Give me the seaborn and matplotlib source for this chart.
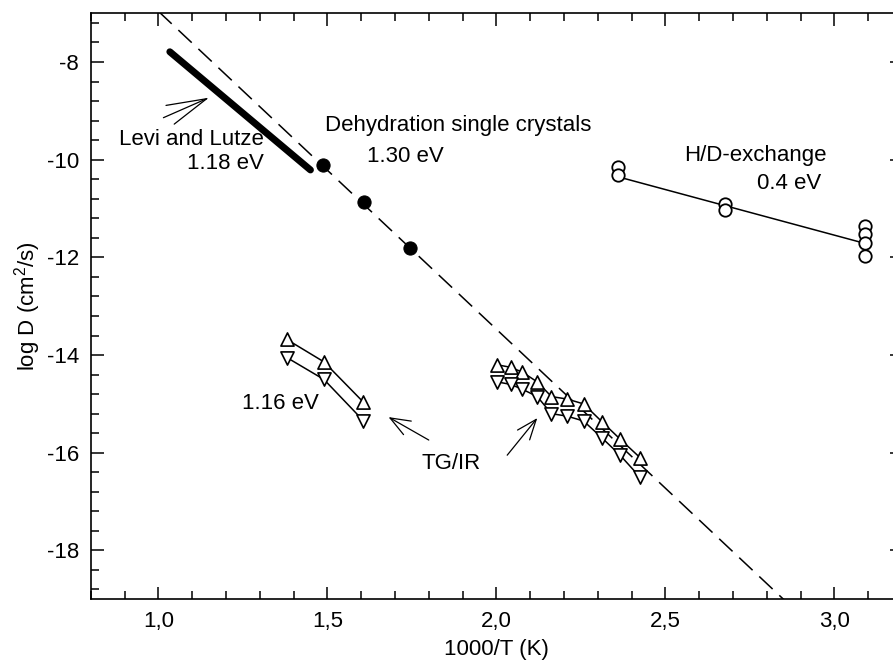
import numpy as np
import pandas as pd
import matplotlib
matplotlib.use('Agg')
import matplotlib.pyplot as plt
from matplotlib.ticker import MultipleLocator, FuncFormatter
import seaborn as sns

# Levi and Lutze (thick line, 1.18 eV)
levi_x = [1.034, 1.450]
levi_y = [-7.79, -10.21]

# dehydration of single crystals (1.30 eV) and its dashed Arrhenius line
dehy_x = [1.487, 1.608, 1.745]
dehy_y = [-10.10, -10.86, -11.80]
dehy_fit_x = [1.0, 2.9]
dehy_fit_y = [-6.96, -19.33]

# H/D-exchange (0.4 eV)
hd_x = [2.36, 2.36, 2.677, 2.677, 3.091, 3.091, 3.091, 3.091]
hd_y = [-10.14, -10.32, -10.90, -11.03, -11.36, -11.53, -11.70, -11.98]
hd_fit_x = [2.36, 3.091]
hd_fit_y = [-10.35, -11.715]

# TG/IR, left group (1.16 eV)
tg1_x = [1.380, 1.490, 1.606]
tg1_up = [-13.68, -14.14, -14.96]
tg1_dn = [-14.05, -14.50, -15.34]

# TG/IR, right group
tg2_x = [2.003, 2.042, 2.077, 2.121, 2.163, 2.209, 2.258, 2.313, 2.366, 2.425]
tg2_up = [-14.20, -14.25, -14.35, -14.55, -14.85, -14.90, -15.00, -15.37, -15.72, -16.10]
tg2_dn = [-14.55, -14.60, -14.70, -14.85, -15.20, -15.25, -15.35, -15.70, -16.05, -16.50]

sns.set_style('ticks')
plt.rcParams['font.family'] = ['Liberation Sans', 'DejaVu Sans']
plt.rcParams['mathtext.default'] = 'regular'
plt.rcParams['axes.unicode_minus'] = False
plt.rcParams['font.size'] = 16
for k in ['text.color', 'axes.labelcolor', 'xtick.color', 'ytick.color',
          'axes.edgecolor']:
    plt.rcParams[k] = 'black'

fig = plt.figure(figsize=(8.93, 6.66), dpi=100)
ax = fig.add_axes([0.1016, 0.1002, 0.9085, 0.880])

# dashed line
sns.lineplot(x=dehy_fit_x, y=dehy_fit_y, ax=ax, color='black', lw=1.1,
             estimator=None, sort=False, zorder=1)
ax.lines[-1].set_dashes((12, 6))

# Levi and Lutze
sns.lineplot(x=levi_x, y=levi_y, ax=ax, color='black', lw=5,
             estimator=None, sort=False, solid_capstyle='round', zorder=2)

# dehydration points
sns.scatterplot(x=dehy_x, y=dehy_y, ax=ax, color='black', s=90,
                edgecolor='black', zorder=3)

# H/D exchange
sns.lineplot(x=hd_fit_x, y=hd_fit_y, ax=ax, color='black', lw=1.1,
             estimator=None, sort=False, zorder=2)
sns.scatterplot(x=hd_x, y=hd_y, ax=ax, marker='o', s=80, facecolor='white',
                edgecolor='black', linewidth=1.3, zorder=3)

# TG/IR triangles
for xs, ys, mk in [(tg1_x, tg1_up, '^'), (tg1_x, tg1_dn, 'v'),
                   (tg2_x, tg2_up, '^'), (tg2_x, tg2_dn, 'v')]:
    sns.lineplot(x=xs, y=ys, ax=ax, color='black', lw=1.1, estimator=None,
                 sort=False, zorder=2)
    sns.scatterplot(x=xs, y=ys, ax=ax, marker=mk, s=90, facecolor='white',
                    edgecolor='black', linewidth=1.2, zorder=3)

# texts
ax.text(1.312, -9.58, 'Levi and Lutze', ha='right', va='center', fontsize=16)
ax.text(1.312, -10.08, '1.18 eV', ha='right', va='center', fontsize=16)
ax.text(1.494, -9.29, 'Dehydration single crystals', ha='left', va='center', fontsize=16)
ax.text(1.618, -9.94, '1.30 eV', ha='left', va='center', fontsize=16)
ax.text(2.554, -9.906, 'H/D-exchange', ha='left', va='center', fontsize=16)
ax.text(2.771, -10.486, '0.4 eV', ha='left', va='center', fontsize=16)
ax.text(1.248, -14.99, '1.16 eV', ha='left', va='center', fontsize=16)
ax.text(1.867, -16.22, 'TG/IR', ha='center', va='center', fontsize=16)

# arrows
ax.annotate('', xy=(1.150, -8.73), xytext=(1.015, -9.14),
            arrowprops=dict(arrowstyle='->,head_length=1.8,head_width=0.46',
                            lw=0.9, color='black', shrinkA=0, shrinkB=0))
ax.annotate('', xy=(2.121, -15.29), xytext=(2.032, -16.05),
            arrowprops=dict(arrowstyle='->,head_length=0.9,head_width=0.35',
                            lw=0.9, color='black', shrinkA=0, shrinkB=0))
ax.annotate('', xy=(1.681, -15.27), xytext=(1.80, -15.74),
            arrowprops=dict(arrowstyle='->,head_length=0.9,head_width=0.35',
                            lw=0.9, color='black', shrinkA=0, shrinkB=0))

ax.set_xlim(0.8, 3.2)
ax.set_ylim(-19, -7)
ax.xaxis.set_major_locator(MultipleLocator(0.5))
ax.xaxis.set_minor_locator(MultipleLocator(0.1))
ax.yaxis.set_major_locator(MultipleLocator(2))
ax.yaxis.set_minor_locator(MultipleLocator(0.4))
ax.xaxis.set_major_formatter(FuncFormatter(lambda v, p: ('%.1f' % v).replace('.', ',')))
ax.yaxis.set_major_formatter(FuncFormatter(lambda v, p: '%d' % round(v)))
ax.tick_params(which='both', direction='in', top=True, right=True,
               width=1.1, colors='black', labelsize=16, pad=8.5)
ax.tick_params(which='major', length=9)
ax.tick_params(which='minor', length=6)
for sp in ax.spines.values():
    sp.set_linewidth(1.2)
    sp.set_color('black')

ax.set_xlabel('1000/T (K)', fontsize=16, labelpad=5)
ax.set_ylabel('log D (cm$^2$/s)', fontsize=16, labelpad=3)

fig.savefig('out.png', dpi=100)
